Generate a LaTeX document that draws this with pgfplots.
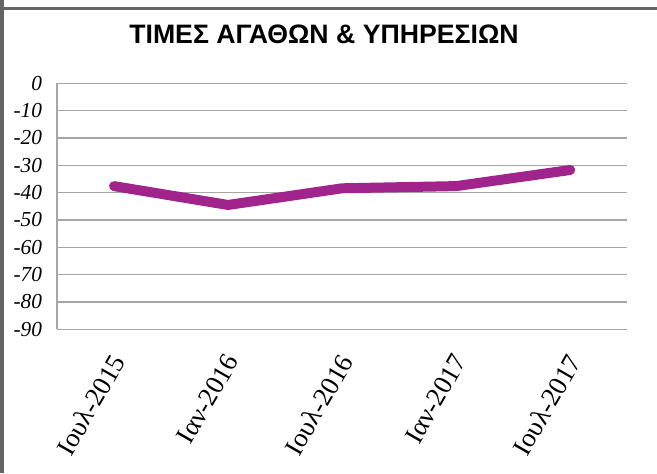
\documentclass[border=0pt]{standalone}
\usepackage{fontspec}
\setmainfont{Liberation Serif}
\newfontfamily\titlefont{Liberation Sans}
\usepackage{pgfplots}
\pgfplotsset{compat=1.18}
\definecolor{linepurple}{RGB}{160,36,140}
\definecolor{gridgray}{RGB}{166,166,166}
\definecolor{framegray}{RGB}{100,100,100}

\begin{document}
\begin{tikzpicture}
\useasboundingbox (-42.75pt,-107.8pt) rectangle (450pt,247pt);
% chart frame (left edge and top edge only are in view)
\fill[framegray] (-42.75pt,-107.8pt) rectangle (-39.75pt,247pt);
\fill[framegray] (-42.75pt,239.6pt) rectangle (450pt,241.6pt);
\begin{axis}[
    at={(0pt,0pt)}, anchor=south west,
    scale only axis,
    width=427.7pt, height=184.5pt,
    xmin=-0.5, xmax=4.5,
    ymin=-90, ymax=0,
    axis lines=left,
    axis line style={gridgray, line width=1pt, -},
    major tick length=0pt,
    xtick={0,1,2,3,4},
    xticklabels={Ιουλ-2015, Ιαν-2016, Ιουλ-2016, Ιαν-2017, Ιουλ-2017},
    ytick={-90,-80,-70,-60,-50,-40,-30,-20,-10,0},
    yticklabels={-90,-80,-70,-60,-50,-40,-30,-20,-10,0},
    ymajorgrids,
    grid style={gridgray, line width=1pt},
    yticklabel style={font=\itshape\fontsize{16}{16}\selectfont, anchor=east, inner sep=0pt, xshift=-11pt},
    xticklabel style={font=\fontsize{20}{20}\selectfont, xshift=-3pt, yshift=-17pt, rotate=60, anchor=north east, inner sep=0pt},
    clip=false,
]
\addplot[linepurple, line width=7.5pt, line cap=round, line join=round] coordinates {
    (0,-37.6) (1,-44.5) (2,-38.4) (3,-37.6) (4,-31.7)
};
\end{axis}
\node[font=\titlefont\bfseries\fontsize{20}{20}\selectfont, anchor=base] at (200.25pt,214.5pt) {ΤΙΜΕΣ ΑΓΑΘΩΝ \& ΥΠΗΡΕΣΙΩΝ};
\end{tikzpicture}
\end{document}
